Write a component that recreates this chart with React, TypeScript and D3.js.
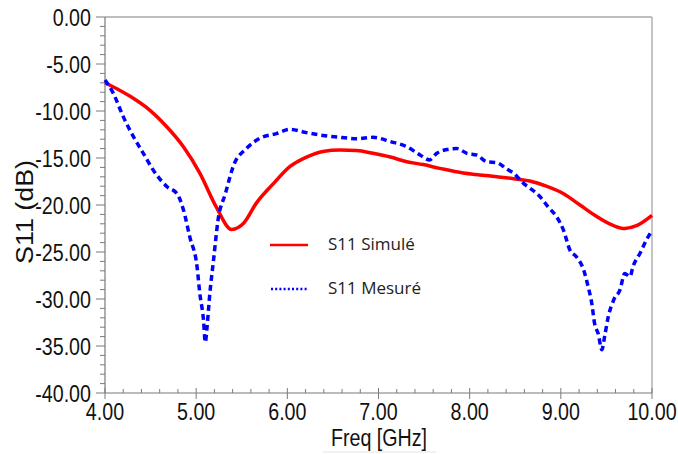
import React from "react";
import * as d3 from "d3";

const simFreq = [4.0, 4.16, 4.31, 4.49, 4.68, 4.86, 5.04, 5.22, 5.39, 5.52, 5.66, 5.85, 6.03, 6.21, 6.39, 6.58, 6.76, 6.94, 7.13, 7.31, 7.49, 7.67, 7.93, 8.11, 8.3, 8.48, 8.66, 8.84, 9.03, 9.21, 9.39, 9.58, 9.7, 9.83, 10.0];
const simDb = [-7.0, -7.8, -8.65, -9.9, -11.7, -13.8, -16.6, -20.2, -22.6, -21.95, -19.8, -17.7, -15.9, -14.9, -14.3, -14.15, -14.2, -14.5, -14.9, -15.4, -15.7, -16.1, -16.6, -16.8, -17.0, -17.2, -17.45, -18.0, -18.8, -20.0, -21.2, -22.2, -22.5, -22.2, -21.1];

const measFreq = [4.0, 4.09, 4.2, 4.31, 4.42, 4.53, 4.68, 4.79, 4.86, 4.93, 5.01, 5.04, 5.08, 5.1, 5.12, 5.15, 5.19, 5.24, 5.32, 5.41, 5.55, 5.7, 5.88, 6.03, 6.21, 6.39, 6.58, 6.76, 6.94, 7.13, 7.31, 7.46, 7.56, 7.64, 7.75, 7.86, 7.97, 8.08, 8.19, 8.3, 8.41, 8.48, 8.59, 8.66, 8.77, 8.86, 8.95, 9.03, 9.1, 9.17, 9.25, 9.3, 9.34, 9.37, 9.41, 9.45, 9.48, 9.52, 9.58, 9.65, 9.7, 9.76, 9.79, 9.87, 9.94, 10.0];
const measDb = [-6.7, -8.1, -10.6, -12.7, -14.5, -16.3, -18.05, -18.8, -20.5, -23.4, -26.6, -29.4, -32.2, -34.6, -32.9, -29.4, -25.9, -21.6, -18.8, -15.8, -14.0, -12.9, -12.4, -11.95, -12.3, -12.6, -12.8, -12.95, -12.8, -13.25, -13.8, -14.7, -15.2, -14.5, -14.1, -14.0, -14.5, -14.7, -15.4, -15.5, -16.2, -16.6, -17.7, -18.2, -19.1, -20.2, -21.2, -22.7, -24.8, -25.5, -26.9, -28.7, -30.5, -32.6, -33.7, -35.4, -34.0, -31.9, -30.1, -29.0, -27.3, -27.6, -26.6, -25.1, -23.7, -22.7];

const xTicks = [4, 5, 6, 7, 8, 9, 10];
const yTicks = [0, -5, -10, -15, -20, -25, -30, -35, -40];
const legendLabels = ["S11 Simulé", "S11 Mesuré"];
const xTitle = "Freq [GHz]";
const yTitle = "S11  (dB)";

const AXIS_FONT = "'Liberation Sans', Arial, sans-serif";
const NARROW = 0.82;

export default function App() {
  const left = 105, right = 652, top = 17, bottom = 393;
  const x = d3.scaleLinear().domain([4, 10]).range([left, right]);
  const y = d3.scaleLinear().domain([-40, 0]).range([bottom, top]);

  const line = d3
    .line<[number, number]>()
    .x((d) => x(d[0]))
    .y((d) => y(d[1]))
    .curve(d3.curveMonotoneX);

  const simPts = simFreq.map((f, i) => [f, simDb[i]] as [number, number]);
  const measPts = measFreq.map((f, i) => [f, measDb[i]] as [number, number]);

  const yMinor = d3.range(0, -41, -1);
  const xMinor = d3.range(4, 10.001, 0.2);
  const axisColor = "#7a7a7a";

  return (
    <svg width={678} height={454} style={{ position: "absolute", left: 0, top: 0, background: "#fff" }}>
      {/* border top / right */}
      <line x1={left} x2={right} y1={top} y2={top} stroke="#a8a8a8" strokeWidth={1.5} />
      <line x1={right} x2={right} y1={top} y2={bottom} stroke="#b0b0b0" strokeWidth={1.5} />
      {/* y axis */}
      <line x1={left} x2={left} y1={top} y2={bottom} stroke={axisColor} strokeWidth={1.2} />
      {yMinor.map((v) => (
        <line key={"ym" + v} x1={left - (v % 5 === 0 ? 9 : 5)} x2={left} y1={y(v)} y2={y(v)} stroke={axisColor} strokeWidth={1} />
      ))}
      {yTicks.map((v) => (
        <g key={"yt" + v} transform={`translate(91,${y(v)}) scale(${NARROW},1)`}>
          <text dy="0.36em" textAnchor="end" fontFamily={AXIS_FONT} fontSize={24} fill="#111">
            {v.toFixed(2)}
          </text>
        </g>
      ))}
      {/* x axis */}
      <line x1={left} x2={right} y1={bottom} y2={bottom} stroke={axisColor} strokeWidth={1.2} />
      {xMinor.map((v, i) => (
        <line key={"xm" + i} x1={x(v)} x2={x(v)} y1={bottom - (i % 5 === 0 ? 5 : 4)} y2={bottom + (i % 5 === 0 ? 6 : 0)} stroke={axisColor} strokeWidth={1} />
      ))}
      {xTicks.map((v) => (
        <g key={"xt" + v} transform={`translate(${x(v)},420) scale(${NARROW},1)`}>
          <text textAnchor="middle" fontFamily={AXIS_FONT} fontSize={24} fill="#111">
            {v.toFixed(2)}
          </text>
        </g>
      ))}
      <g transform={`translate(379,446) scale(${NARROW},1)`}>
        <text textAnchor="middle" fontFamily={AXIS_FONT} fontSize={24} fill="#111">
          {xTitle}
        </text>
      </g>
      <line x1={323} x2={436} y1={452} y2={452} stroke="#e4e4e4" strokeWidth={1} />
      <g transform="translate(33,212) rotate(-90)">
        <text
          textAnchor="middle"
          fontFamily={AXIS_FONT}
          fontSize={23}
          fill="#111"
          textLength={104}
          lengthAdjust="spacingAndGlyphs"
        >
          {yTitle}
        </text>
      </g>
      {/* series */}
      <path d={line(simPts) || ""} fill="none" stroke="#ff0000" strokeWidth={3.5} strokeLinejoin="round" />
      <path d={line(measPts) || ""} fill="none" stroke="#0000ff" strokeWidth={3.5} strokeDasharray="6 4" />
      {/* legend */}
      <line x1={270} x2={308} y1={245} y2={245} stroke="#ff0000" strokeWidth={2.5} />
      <text x={328} y={250} fontFamily="'Open Sans', 'Noto Sans', sans-serif" fontSize={17} fill="#222">
        {legendLabels[0]}
      </text>
      <line x1={271} x2={307} y1={289} y2={289} stroke="#0000ff" strokeWidth={2.5} strokeDasharray="2 2.2" />
      <text x={328} y={294} fontFamily="'Open Sans', 'Noto Sans', sans-serif" fontSize={17} fill="#222">
        {legendLabels[1]}
      </text>
    </svg>
  );
}
